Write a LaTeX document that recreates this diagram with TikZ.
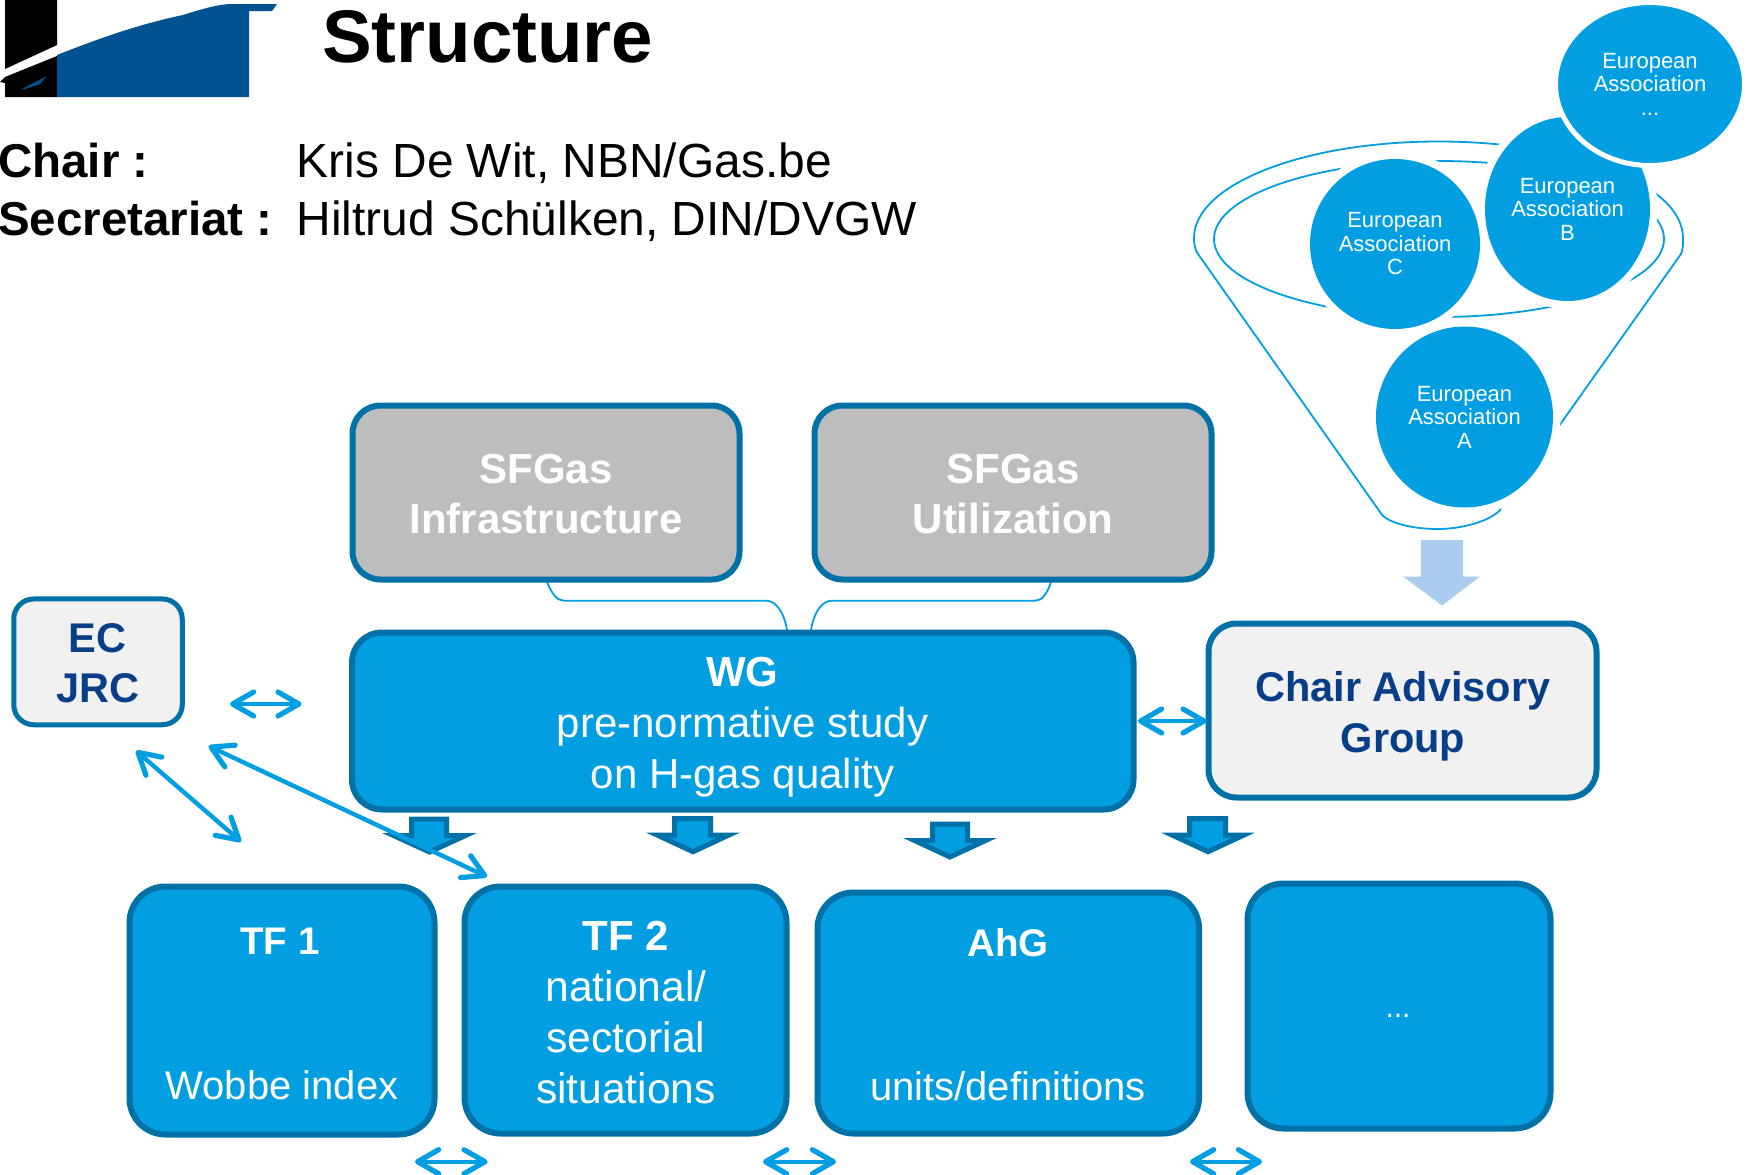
\documentclass[tikz,border=0pt]{standalone}
\usepackage{fontspec}
\setmainfont{Liberation Sans}
\usetikzlibrary{arrows.meta,shapes.geometric}
\definecolor{mainblue}{RGB}{2,158,226}
\definecolor{edgeblue}{RGB}{0,113,167}
\definecolor{lightarrow}{RGB}{170,204,238}
\definecolor{navy}{RGB}{8,62,135}
\definecolor{paleg}{RGB}{241,241,241}
\definecolor{midg}{RGB}{189,189,189}
\definecolor{logoblue}{RGB}{0,82,147}
\newcommand{\HH}{\rule{0pt}{42pt}}
\tikzset{
 bluebox/.style={draw=edgeblue,line width=6pt,fill=mainblue,rounded corners=36pt,inner sep=0,outer sep=0},
 greybox/.style={draw=edgeblue,line width=6pt,fill=midg,rounded corners=28pt,inner sep=0,outer sep=0},
 palebox/.style={draw=edgeblue,line width=6pt,fill=paleg,rounded corners=28pt,inner sep=0,outer sep=0},
 bigtxt/.style={inner sep=0,outer sep=0,anchor=north,align=center,font=\fontsize{42}{51}\selectfont},
 white txt/.style={bigtxt,text=white},
 grey txt/.style={bigtxt,text=white,font=\fontsize{42}{50}\selectfont\bfseries},
 navy txt/.style={bigtxt,text=navy,font=\fontsize{41.5}{51}\selectfont\bfseries},
 assoc/.style={ellipse,fill=mainblue,text=white,inner sep=0,outer sep=0,align=center,font=\fontsize{22}{23.5}\selectfont},
 thin link/.style={draw=mainblue,line width=1.8pt},
 dbl/.style={draw=mainblue,line width=4.4pt,
   {Straight Barb[length=21pt,width=24pt,line width=5.2pt,round]}-{Straight Barb[length=21pt,width=24pt,line width=5.2pt,round]}},
 drop/.style={draw=edgeblue,line width=5pt,fill=mainblue,miter limit=10},
}
\begin{document}
\begin{tikzpicture}[x=1pt,y=-1pt]
\useasboundingbox (0,0) rectangle (1746,1175);
% logo
\fill[black] (5,0) -- (57,0) -- (57,45) -- (5,69) -- cycle;
\fill[black] (0,82) -- (5,77) -- (57,56) -- (57,97) -- (5,97) -- (5,83) -- cycle;
\fill[logoblue] (57,55) .. controls (100,38) and (140,24) .. (183,15) .. controls (205,8) and (220,4) .. (232,4) -- (277,4) -- (272,11) -- (249,11) -- (249,97) -- (57,97) -- cycle;
\fill[logoblue] (22,89) -- (47,76) -- (40,84) -- (25,89) -- cycle;
% header
\node[inner sep=0,anchor=base west,font=\fontsize{74.5}{80}\selectfont\bfseries] (title) at (322,62) {Structure};
\node[inner sep=0,anchor=base west,font=\fontsize{47.5}{50}\selectfont\bfseries] (chairl) at (-2,177) {Chair :};
\node[inner sep=0,anchor=base west,font=\fontsize{47.5}{50}\selectfont\bfseries] (secl) at (-2,235) {Secretariat :};
\node[inner sep=0,anchor=base west,font=\fontsize{47.9}{50}\selectfont] (chairn) at (296.5,177.5) {Kris De Wit, NBN/Gas.be};
\node[inner sep=0,anchor=base west,font=\fontsize{47.9}{50}\selectfont] (secn) at (296.5,235.5) {Hiltrud Schülken, DIN/DVGW};
% funnel
\draw[thin link] (1501,509) .. controls (1490,522) and (1460,529) .. (1438,529) .. controls (1410,529) and (1385,522) .. (1380,512) -- (1198,254) .. controls (1195,250) and (1194,244) .. (1194,238) .. controls (1194,184.4) and (1303.5,141.5) .. (1438.5,141.5) .. controls (1573.5,141.5) and (1683,184.4) .. (1683,238) .. controls (1683,244) and (1683,250) .. (1681,254) -- (1559,426);
\draw[thin link] (1439,239) ellipse [x radius=225,y radius=78];
\fill[white] (1464.5,417) ellipse [x radius=96,y radius=98];
\fill[white] (1395,244) ellipse [x radius=93,y radius=93];
\fill[white] (1567.5,209) ellipse [x radius=90,y radius=100];
\node[assoc,minimum width=177pt,minimum height=181pt] (ea) at (1464.5,417) {European\\Association\\A};
\node[assoc,minimum width=170pt,minimum height=170pt] (ec) at (1395,244) {European\\Association\\C};
\node[assoc,minimum width=165pt,minimum height=184pt] (eb) at (1567.5,209) {European\\Association\\B};
\node[assoc,draw=white,line width=5pt,minimum width=189pt,minimum height=163pt] (ed) at (1650,84) {European\\Association\\...};
\fill[lightarrow] (1421,540) -- (1463,540) -- (1463,576.5) -- (1480,576.5) -- (1442,605.5) -- (1403,576.5) -- (1421,576.5) -- cycle;
% boxes
\coordinate (l1) at (547,582); \coordinate (l2) at (787,630);
\coordinate (r1) at (811,630); \coordinate (r2) at (1051,582);
\draw[thin link] (l1) .. controls (552,594) and (557,600.7) .. (564,600.7) -- (766,600.7) .. controls (776,600.7) and (784,612) .. (l2);
\draw[thin link] (r1) .. controls (814,612) and (822,600.7) .. (832,600.7) -- (1035,600.7) .. controls (1042,600.7) and (1047,594) .. (r2);
\node[greybox,minimum width=387pt,minimum height=174pt] (infra) at (546,492.5) {};
\node[greybox,minimum width=397pt,minimum height=174pt] (util) at (1013,492.5) {};
\node[bluebox,rounded corners=30pt,minimum width=781.5pt,minimum height=177pt] (wg) at (742.75,721) {};
\node[palebox,line width=5pt,rounded corners=20pt,minimum width=168.5pt,minimum height=125.8pt] (jrc) at (98,661.85) {};
\node[palebox,minimum width=388pt,minimum height=174pt] (cag) at (1402.5,710.5) {};
\node[bluebox,minimum width=305pt,minimum height=248pt] (tf1) at (282,1010.5) {};
\node[bluebox,minimum width=322pt,minimum height=247pt] (tf2) at (625.5,1010) {};
\node[bluebox,minimum width=381.5pt,minimum height=241pt] (ahg) at (1008.25,1013) {};
\node[bluebox,minimum width=303pt,minimum height=245pt] (more) at (1399,1006) {};
% box texts
\node[grey txt] (t1) at (546,441) {\HH SFGas\\Infrastructure};
\node[grey txt] (t2) at (1013,441) {\HH SFGas\\Utilization};
\node[white txt] (t3) at (742.5,644.7) {\HH\textbf{WG}\\pre-normative study\\on H-gas quality};
\node[navy txt,font=\fontsize{41.5}{50}\selectfont\bfseries] (t4) at (97.6,610) {\HH EC\\JRC};
\node[navy txt] (t5) at (1403,659) {\HH Chair Advisory\\Group};
\node[white txt,font=\fontsize{38.5}{51}\selectfont] (t6) at (280,912) {\HH\textbf{TF 1}};
\node[white txt,font=\fontsize{40}{51}\selectfont] (t7) at (282,1057) {\HH Wobbe index};
\node[white txt,font=\fontsize{42.6}{51}\selectfont] (t8) at (626,908) {\HH{\fontsize{42}{51}\selectfont\textbf{TF 2}}\\national/\\sectorial\\situations};
\node[white txt,font=\fontsize{38.5}{51}\selectfont] (t9) at (1008,914) {\HH\textbf{AhG}};
\node[white txt,font=\fontsize{40}{51}\selectfont] (t10) at (1008,1058) {\HH units/definitions};
\node[inner sep=0,text=white,anchor=base,font=\fontsize{30}{30}\selectfont] (t11) at (1398,1017) {...};
% drop arrows
\draw[drop] (411.5,819.2) -- (446.5,819.2) -- (446.5,835.5) -- (465.5,835.5) -- (429.5,852) -- (393.5,835.5) -- (411.5,835.5) -- cycle;
\draw[drop] (674.5,818.5) -- (710.5,818.5) -- (710.5,835.2) -- (728.5,835.2) -- (693,851.7) -- (657.5,835.2) -- (674.5,835.2) -- cycle;
\draw[drop] (932.5,824.2) -- (967.5,824.2) -- (967.5,840.5) -- (985.5,840.5) -- (950,857) -- (914.5,840.5) -- (932.5,840.5) -- cycle;
\draw[drop] (1189.5,818.5) -- (1225.5,818.5) -- (1225.5,835.2) -- (1243.5,835.2) -- (1208,851.7) -- (1172.5,835.2) -- (1189.5,835.2) -- cycle;
% double arrows
\coordinate (a1) at (230,704); \coordinate (a2) at (301.6,704);
\coordinate (b1) at (136,750.7); \coordinate (b2) at (241,841.7);
\coordinate (c1) at (208.6,746); \coordinate (c2) at (487,876.7);
\coordinate (d1) at (1138,721); \coordinate (d2) at (1206.6,721);
\coordinate (e1) at (415,1161.7); \coordinate (e2) at (487.6,1161.7);
\coordinate (f1) at (763,1161.7); \coordinate (f2) at (836,1161.7);
\coordinate (g1) at (1190,1161.7); \coordinate (g2) at (1262,1161.7);
\draw[dbl] (a1) -- (a2);
\draw[dbl] (b1) -- (b2);
\draw[dbl] (c1) -- (c2);
\draw[dbl] (d1) -- (d2);
\draw[dbl] (e1) -- (e2);
\draw[dbl] (f1) -- (f2);
\draw[dbl] (g1) -- (g2);
\end{tikzpicture}
\end{document}
